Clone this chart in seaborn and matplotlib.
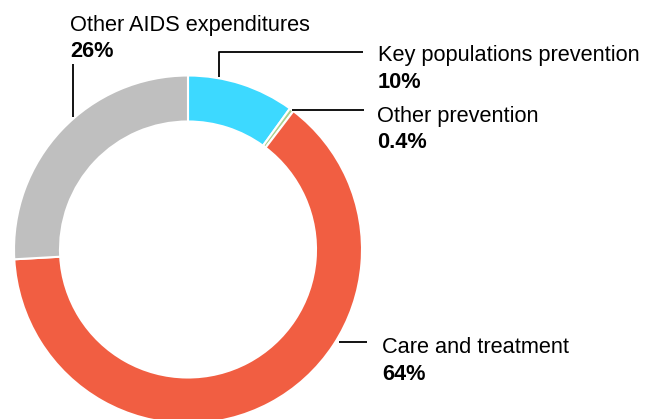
"""
Donut chart of AIDS spending by category, with leader-line labels.

Saves the figure as out.png (660x419 px).
"""

import numpy as np
import matplotlib.pyplot as plt
import seaborn as sns

# Spending shares (%), clockwise from the top of the ring
categories = [
    "Key populations prevention",
    "Other prevention",
    "Care and treatment",
    "Other AIDS expenditures",
]
shares = [10.0, 0.4, 64.0, 26.0]
share_labels = ["10%", "0.4%", "64%", "26%"]
colours = ["#3dd9ff", "#a9d18e", "#f15e42", "#bfbfbf"]

W, H = 660, 419


def px(x, y):
    """Convert pixel coordinates (origin top-left) to data coordinates."""
    return x, H - y


def main() -> None:
    sns.set_theme(style="white")
    plt.rcParams["font.family"] = ["Liberation Sans", "DejaVu Sans"]

    fig = plt.figure(figsize=(W / 100, H / 100), dpi=100)
    ax = fig.add_axes([0, 0, 1, 1])

    centre = px(188, 249.5)
    radius = 174
    wedges, _ = ax.pie(
        shares,
        colors=colours,
        startangle=90,
        counterclock=False,
        radius=radius,
        center=centre,
        wedgeprops=dict(width=46, edgecolor="white", linewidth=1.5),
    )
    ax.set_xlim(0, W)
    ax.set_ylim(0, H)
    ax.set_aspect("equal")
    ax.axis("off")

    line_kw = dict(color="black", linewidth=1.3, solid_capstyle="butt")
    fs = 15.7

    # Key populations prevention: elbow connector
    x0, y0 = px(219, 77)
    x1, y1 = px(219, 52)
    x2, _ = px(363, 52)
    ax.plot([x0, x1, x2], [y0, y1, y1], **line_kw)

    # Other prevention: from middle of its wedge on the outer edge
    w = wedges[1]
    mid = np.deg2rad((w.theta1 + w.theta2) / 2)
    sx = centre[0] + radius * np.cos(mid)
    sy = centre[1] + radius * np.sin(mid)
    ex, _ = px(364, 0)
    ax.plot([sx, ex], [sy, sy], **line_kw)

    # Care and treatment
    a, b = px(339, 342)
    c, _ = px(367, 342)
    ax.plot([a, c], [b, b], **line_kw)

    # Other AIDS expenditures
    a, b = px(73, 117)
    _, d = px(73, 64)
    ax.plot([a, a], [b, d], **line_kw)

    text_pos = {
        0: (378, 61, 88),
        1: (377, 122, 148),
        2: (382, 353, 380),
        3: (70, 31, 57),
    }
    for i, (x, yl, yp) in text_pos.items():
        ax.text(*px(x, yl), categories[i], fontsize=fs, va="baseline",
                ha="left", color="black")
        ax.text(*px(x, yp), share_labels[i], fontsize=fs, va="baseline",
                ha="left", color="black", fontweight="bold")

    fig.savefig("out.png", dpi=100)
    plt.close(fig)


if __name__ == "__main__":
    main()
